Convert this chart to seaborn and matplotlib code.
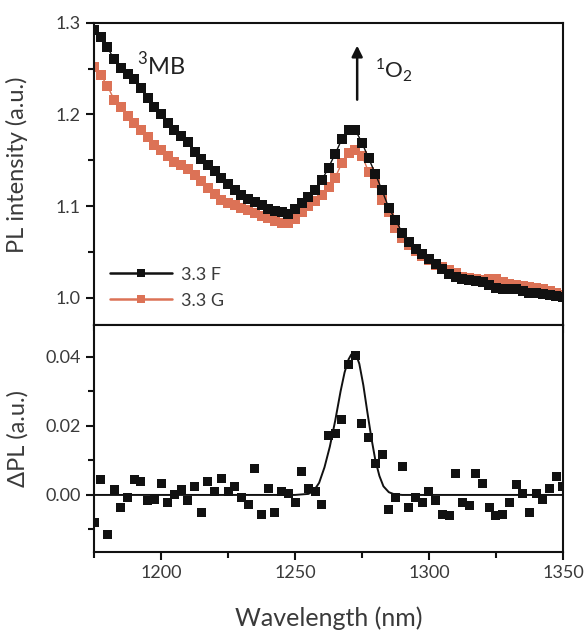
import numpy as np
import pandas as pd
import matplotlib.pyplot as plt
import seaborn as sns
from matplotlib.ticker import MultipleLocator

sns.set_style("ticks")
plt.rcParams['font.family'] = ['Lato', 'DejaVu Sans']
plt.rcParams['mathtext.fontset'] = 'custom'
plt.rcParams['mathtext.rm'] = 'Lato'

# wavelength grid (nm), 2.5 nm steps
wavelength = [1175 + 2.5 * i for i in range(71)]

pl_33f = [1.292, 1.284, 1.273, 1.260, 1.251, 1.244, 1.239, 1.229, 1.218, 1.208,
          1.200, 1.191, 1.183, 1.176, 1.170, 1.159, 1.151, 1.145, 1.138, 1.131,
          1.124, 1.117, 1.112, 1.108, 1.104, 1.101, 1.097, 1.095, 1.093, 1.091,
          1.097, 1.103, 1.110, 1.118, 1.128, 1.142, 1.157, 1.173, 1.183, 1.183,
          1.169, 1.152, 1.135, 1.117, 1.098, 1.085, 1.071, 1.061, 1.053, 1.048,
          1.042, 1.037, 1.031, 1.026, 1.023, 1.020, 1.019, 1.018, 1.017, 1.014,
          1.011, 1.010, 1.009, 1.009, 1.007, 1.005, 1.005, 1.004, 1.003, 1.002, 1.001]

pl_33g = [1.252, 1.243, 1.231, 1.216, 1.208, 1.198, 1.191, 1.183, 1.175, 1.167,
          1.161, 1.155, 1.148, 1.145, 1.140, 1.134, 1.127, 1.120, 1.113, 1.107,
          1.103, 1.101, 1.098, 1.096, 1.092, 1.089, 1.087, 1.084, 1.082, 1.081,
          1.086, 1.093, 1.100, 1.106, 1.112, 1.121, 1.131, 1.147, 1.158, 1.161,
          1.155, 1.137, 1.125, 1.107, 1.094, 1.076, 1.065, 1.057, 1.051, 1.046,
          1.041, 1.036, 1.033, 1.030, 1.027, 1.023, 1.021, 1.020, 1.019, 1.020,
          1.020, 1.017, 1.015, 1.014, 1.013, 1.012, 1.011, 1.009, 1.007, 1.005, 1.003]

delta_pl = [-0.0080, 0.0044, -0.0116, 0.0015, -0.0036, -0.0006, 0.0044, 0.0038, -0.0015, -0.0012,
            0.0033, -0.0021, 0.0000, 0.0015, -0.0015, 0.0024, -0.0050, 0.0038, 0.0009, 0.0047,
            0.0009, 0.0024, -0.0006, -0.0027, 0.0077, -0.0056, 0.0018, -0.0050, 0.0009, 0.0003,
            -0.0021, 0.0068, 0.0018, 0.0009, -0.0027, 0.0172, 0.0178, 0.0219, 0.0379, 0.0403,
            0.0207, 0.0166, 0.0092, 0.0118, -0.0041, -0.0006, 0.0083, -0.0036, -0.0006, -0.0021,
            0.0009, -0.0015, -0.0056, -0.0060, 0.0062, -0.0021, -0.0030, 0.0062, 0.0033, -0.0036,
            -0.0060, -0.0056, -0.0021, 0.0030, 0.0003, -0.0050, 0.0003, -0.0012, 0.0018, 0.0053, 0.0024]

# fitted curve
fit_wl = [1175, 1250, 1255, 1257, 1259, 1261, 1263, 1265, 1267, 1268.5, 1270, 1271, 1272,
          1273, 1274, 1275.5, 1277, 1278.5, 1280, 1281.5, 1283, 1285, 1287, 1290, 1350]
fit_val = [0.0, 0.0, 0.0003, 0.0012, 0.0035, 0.0080, 0.0140, 0.0215, 0.0300, 0.0355, 0.0393,
           0.0407, 0.0409, 0.0402, 0.0380, 0.0318, 0.0240, 0.0165, 0.0100, 0.0055, 0.0025,
           0.0008, 0.0002, 0.0, 0.0]

black = "#111111"
red = "#dc7256"
text_col = "#3a3a3a"

df_top = pd.DataFrame({"wl": wavelength * 2,
                       "pl": pl_33f + pl_33g,
                       "sample": ["3.3 F"] * 71 + ["3.3 G"] * 71})

fig, (ax1, ax2) = plt.subplots(2, 1, sharex=True, figsize=(5.84, 6.3), dpi=100,
                               gridspec_kw={"height_ratios": [302, 227], "hspace": 0})
fig.subplots_adjust(left=0.161, right=0.964, top=0.964, bottom=0.124)

sns.lineplot(data=df_top, x="wl", y="pl", hue="sample", ax=ax1,
             palette={"3.3 F": black, "3.3 G": red}, marker="s", markersize=6.5,
             markeredgewidth=0, linewidth=1.0, legend=False)
# draw black on top
for ln in ax1.lines:
    if ln.get_color() == red:
        ln.set_zorder(2)
    else:
        ln.set_zorder(3)

sns.scatterplot(x=wavelength, y=delta_pl, ax=ax2, marker="s", s=42, color=black,
                edgecolor="none", zorder=3)
sns.lineplot(x=fit_wl, y=fit_val, ax=ax2, color=black, linewidth=1.4, zorder=2)

ax1.set_xlim(1175, 1350)
ax1.set_ylim(0.9705, 1.30)
ax2.set_ylim(-0.0165, 0.0493)

ax1.yaxis.set_major_locator(MultipleLocator(0.1))
ax1.yaxis.set_minor_locator(MultipleLocator(0.05))
ax1.yaxis.set_major_formatter(plt.FormatStrFormatter("%.1f"))
ax2.yaxis.set_major_locator(MultipleLocator(0.02))
ax2.yaxis.set_minor_locator(MultipleLocator(0.01))
ax2.yaxis.set_major_formatter(plt.FormatStrFormatter("%.2f"))
ax2.xaxis.set_major_locator(MultipleLocator(50))
ax2.xaxis.set_minor_locator(MultipleLocator(25))

for ax in (ax1, ax2):
    for s in ax.spines.values():
        s.set_visible(True)
        s.set_linewidth(1.5)
        s.set_color("#111111")
    ax.tick_params(which="major", direction="out", length=6, width=1.5, color="#111111",
                   labelsize=13, labelcolor=text_col, top=False, right=False)
    ax.tick_params(which="minor", direction="out", length=4, width=1.5, color="#111111",
                   top=False, right=False)
    ax.set_xlabel("")
ax1.tick_params(axis="x", which="both", labelbottom=False)

ax1.set_ylabel("PL intensity (a.u.)", fontsize=17, color=text_col, labelpad=8)
ax2.set_ylabel("ΔPL (a.u.)", fontsize=17, color=text_col, labelpad=4)
ax2.set_xlabel("Wavelength (nm)", fontsize=18, color=text_col, labelpad=18)
ax1.yaxis.set_label_coords(-0.14, 0.53)
ax2.yaxis.set_label_coords(-0.14, 0.5)

ax1.text(1191, 1.243, r"$^{3}$MB", fontsize=17, color="#222222", ha="left", va="baseline")
ax1.annotate("", xy=(1273.2, 1.278), xytext=(1273.2, 1.213),
             arrowprops=dict(arrowstyle="-|>", color="#111111", lw=1.8, mutation_scale=16))
ax1.text(1280, 1.240, r"$^{1}$O$_{2}$", fontsize=16, color="#222222", ha="left", va="baseline")

h_f = plt.Line2D([], [], color=black, marker="s", markersize=6, markeredgewidth=0, linewidth=1.8)
h_g = plt.Line2D([], [], color=red, marker="s", markersize=6, markeredgewidth=0, linewidth=1.8)
leg = ax1.legend([h_f, h_g], ["3.3 F", "3.3 G"], loc="lower left", bbox_to_anchor=(0.0, 0.0),
                 frameon=False, fontsize=13, handlelength=3.4, labelspacing=0.55, handletextpad=0.5)
for t in leg.get_texts():
    t.set_color(text_col)

fig.savefig("out.png", dpi=100)
